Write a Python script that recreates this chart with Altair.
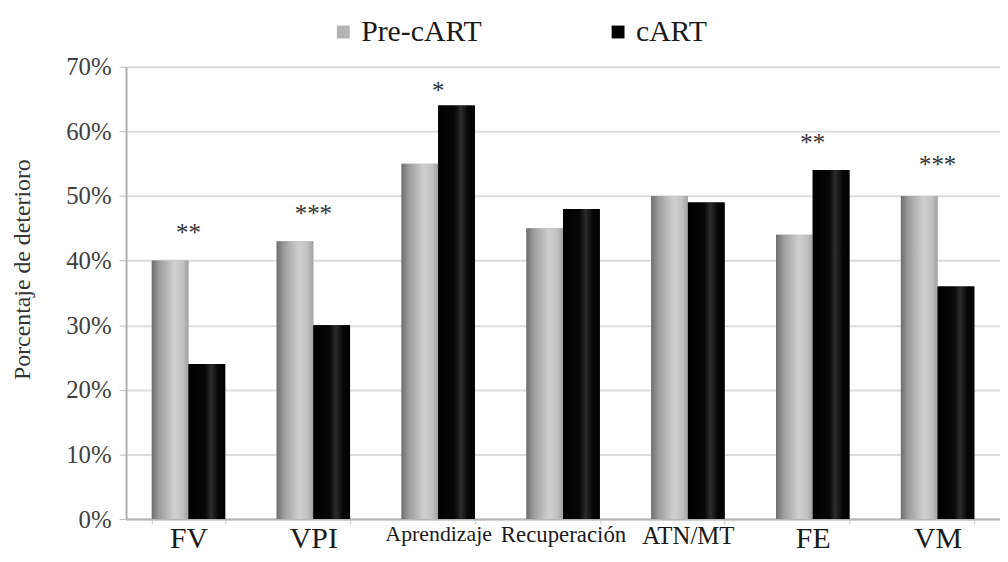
import altair as alt
import pandas as pd

categories = ["FV", "VPI", "Aprendizaje", "Recuperación", "ATN/MT", "FE", "VM"]
series_names = ["Pre-cART", "cART"]
pre_cart = [40, 43, 55, 45, 50, 44, 50]
cart = [24, 30, 64, 48, 49, 54, 36]
star_labels = ["**", "***", "*", "", "", "**", "***"]
star_levels = [45.0, 48.0, 67.0, 0, 0, 59.0, 55.6]
y_ticks = [0, 10, 20, 30, 40, 50, 60, 70]

FONT = "'Liberation Serif', 'Times New Roman', Times, serif"

rows = []
for c, p, k in zip(categories, pre_cart, cart):
    rows.append({"cat": c, "series": "Pre-cART", "value": p / 100})
    rows.append({"cat": c, "series": "cART", "value": k / 100})
df = pd.DataFrame(rows)

star_df = pd.DataFrame(
    {"cat": categories, "label": star_labels, "level": [v / 100 for v in star_levels]}
)
star_df = star_df[star_df["label"] != ""]

x_enc = alt.X(
    "cat:N",
    sort=categories,
    title=None,
    scale=alt.Scale(paddingInner=0.412, paddingOuter=0.206),
    axis=alt.Axis(
        labelFont=FONT,
        labelFontSize={
            "condition": [
                {"test": "datum.value == 'Aprendizaje'", "value": 22},
                {"test": "datum.value == 'Recuperación'", "value": 23},
                {"test": "datum.value == 'ATN/MT'", "value": 25},
            ],
            "value": 30,
        },
        labelColor="#1a1a1a",
        labelAngle=0,
        labelPadding=0,
        labelOverlap=False,
        tickBand="extent",
        tickSize=5,
        tickColor="#cccccc",
        tickWidth=1,
        domainColor="#b5b5b5",
        domainWidth=2,
        grid=False,
    ),
)

xoff = alt.XOffset(
    "series:N",
    sort=series_names,
    scale=alt.Scale(domain=series_names, paddingInner=0, paddingOuter=0),
)

y_enc = alt.Y(
    "value:Q",
    scale=alt.Scale(domain=[0, 0.7], nice=False),
    title="Porcentaje de deterioro",
    axis=alt.Axis(
        values=[v / 100 for v in y_ticks],
        format=".0%",
        labelFont=FONT,
        labelFontSize=25,
        labelColor="#404040",
        labelPadding=8,
        tickSize=7,
        tickColor="#bdbdbd",
        domainColor="#b0b0b0",
        domainWidth=2,
        gridColor="#dcdcdc",
        gridWidth=2,
        titleFont=FONT,
        titleFontSize=24,
        titleFontWeight="normal",
        titleColor="#333333",
        titleX=-92,
        titleY=204,
    ),
)

grey_grad = alt.LinearGradient(
    gradient="linear", x1=0, x2=1, y1=0, y2=0,
    stops=[
        alt.GradientStop(offset=0, color="#6e6e6e"),
        alt.GradientStop(offset=0.2, color="#9c9c9c"),
        alt.GradientStop(offset=0.62, color="#d0d0d0"),
        alt.GradientStop(offset=0.85, color="#c0c0c0"),
        alt.GradientStop(offset=1, color="#a2a2a2"),
    ],
)
black_grad = alt.LinearGradient(
    gradient="linear", x1=0, x2=1, y1=0, y2=0,
    stops=[
        alt.GradientStop(offset=0, color="#000000"),
        alt.GradientStop(offset=0.45, color="#070707"),
        alt.GradientStop(offset=0.62, color="#2c2c2c"),
        alt.GradientStop(offset=0.8, color="#080808"),
        alt.GradientStop(offset=1, color="#000000"),
    ],
)

base = alt.Chart(df)

legend_bars = base.mark_bar().encode(
    x=x_enc,
    xOffset=xoff,
    y=y_enc,
    color=alt.Color(
        "series:N",
        sort=series_names,
        scale=alt.Scale(domain=series_names, range=["#b3b3b3", "#000000"]),
        legend=alt.Legend(
            orient="none",
            legendX=204,
            legendY=-50,
            direction="horizontal",
            title=None,
            symbolType="square",
            symbolSize=169,
            symbolStrokeWidth=0,
            labelFont=FONT,
            labelFontSize=30,
            labelColor="#1a1a1a",
            labelOffset=3,
            columnPadding=122,
            padding=0,
        ),
    ),
)

pre_bars = (
    base.transform_filter(alt.datum.series == "Pre-cART")
    .mark_bar(color=grey_grad)
    .encode(x=x_enc, xOffset=xoff, y=y_enc)
)
cart_bars = (
    base.transform_filter(alt.datum.series == "cART")
    .mark_bar(color=black_grad)
    .encode(x=x_enc, xOffset=xoff, y=y_enc)
)

stars = (
    alt.Chart(star_df)
    .mark_text(font=FONT, fontSize=25, color="#333333", baseline="alphabetic", dy=13)
    .encode(
        x=alt.X("cat:N", sort=categories),
        y=alt.Y("level:Q"),
        text="label:N",
    )
)

chart = (
    alt.layer(legend_bars, pre_bars, cart_bars, stars)
    .properties(
        width=881,
        height=456,
        padding={"left": 119, "top": 57, "right": 0, "bottom": 33},
        autosize=alt.AutoSizeParams(type="none"),
        background="white",
    )
    .configure_view(stroke=None)
)

chart.save("out.html", embed_options={"renderer": "svg", "actions": False})
